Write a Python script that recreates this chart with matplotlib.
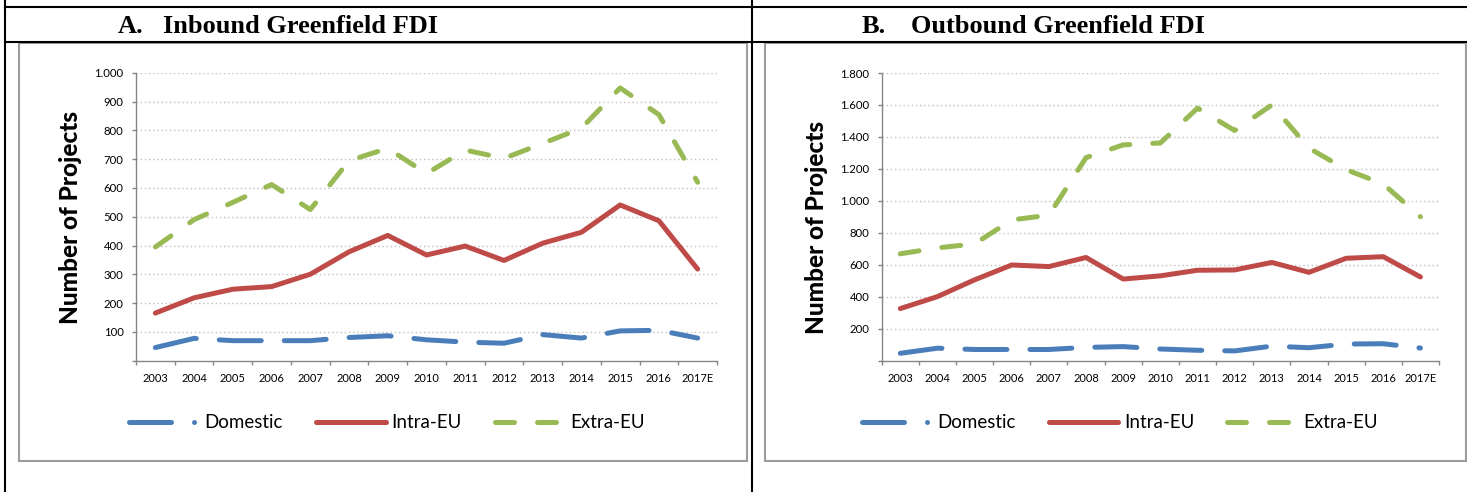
import matplotlib.pyplot as plt
from matplotlib.lines import Line2D
from matplotlib.patches import Rectangle

years = ['2003', '2004', '2005', '2006', '2007', '2008', '2009', '2010',
         '2011', '2012', '2013', '2014', '2015', '2016', '2017E']

# Panel A: inbound projects
inbound_domestic = [45, 77, 69, 69, 69, 80, 86, 72, 64, 60, 90, 78, 103, 105, 78]
inbound_intra_eu = [165, 218, 248, 257, 300, 378, 435, 367, 398, 348, 408, 446, 541, 486, 318]
inbound_extra_eu = [395, 490, 550, 612, 525, 695, 738, 650, 732, 703, 755, 808, 948, 855, 620]
inbound_ticks = [100, 200, 300, 400, 500, 600, 700, 800, 900, 1000]

# Panel B: outbound projects
outbound_domestic = [45, 77, 69, 69, 69, 82, 87, 72, 64, 60, 90, 80, 103, 105, 78]
outbound_intra_eu = [325, 400, 505, 598, 588, 645, 510, 530, 565, 567, 614, 552, 640, 650, 523]
outbound_extra_eu = [668, 705, 730, 880, 910, 1270, 1350, 1362, 1580, 1440, 1600, 1330, 1195, 1105, 900]
outbound_ticks = [200, 400, 600, 800, 1000, 1200, 1400, 1600, 1800]

series_names = ['Domestic', 'Intra-EU', 'Extra-EU']

BLUE = '#4A7EBB'
RED = '#BE4B48'
GREEN = '#98B954'
AXIS_GREY = '#868686'
LW = 3.6

W, H = 1467, 492
fig = plt.figure(figsize=(W / 100, H / 100), dpi=100)


def fx(px):
    return px / W


def fy(py):
    return 1 - py / H


def fig_line(x0, y0, x1, y1, **kw):
    fig.add_artist(Line2D([fx(x0), fx(x1)], [fy(y0), fy(y1)],
                          transform=fig.transFigure, **kw))


# table grid
for y in (7, 42):
    fig_line(5, y, W, y, color='black', lw=1.5)
for x in (5, 752):
    fig_line(x, 0, x, H, color='black', lw=1.5)

# panel headings
title_font = dict(family='Liberation Serif', weight='bold', size=19,
                  va='baseline', ha='left')
fig.text(fx(118), fy(33), 'A.', **title_font)
fig.text(fx(163), fy(33), 'Inbound Greenfield FDI', **title_font)
fig.text(fx(862), fy(33), 'B.', **title_font)
fig.text(fx(911), fy(33), 'Outbound Greenfield FDI', **title_font)

line_styles = [
    dict(color=BLUE, lw=LW, dashes=(8.4, 4.6), dash_capstyle='round', dash_joinstyle='round'),
    dict(color=RED, lw=LW, solid_capstyle='round', solid_joinstyle='round'),
    dict(color=GREEN, lw=LW, dashes=(3.8, 4.6), dash_capstyle='round', dash_joinstyle='round'),
]
legend_handles = [
    Line2D([], [], color=BLUE, lw=LW, dashes=(8.4, 4.6, 0.01, 4.6), dash_capstyle='round'),
    Line2D([], [], color=RED, lw=LW, solid_capstyle='round'),
    Line2D([], [], color=GREEN, lw=LW, dashes=(3.8, 4.6), dash_capstyle='round'),
]

panels = [
    dict(frame=(19, 43, 747, 461), plot=(136, 73, 717, 360.5), label_x=70, label_y=217,
         data=[inbound_domestic, inbound_intra_eu, inbound_extra_eu],
         ticks=inbound_ticks, ymax=1000),
    dict(frame=(765, 43, 1466, 461), plot=(881.7, 73, 1439, 360.5), label_x=816, label_y=227,
         data=[outbound_domestic, outbound_intra_eu, outbound_extra_eu],
         ticks=outbound_ticks, ymax=1800),
]

for p in panels:
    x0, y0, x1, y1 = p['frame']
    fig.add_artist(Rectangle((fx(x0), fy(y1)), (x1 - x0) / W, (y1 - y0) / H,
                             transform=fig.transFigure, fill=False,
                             edgecolor='#9C9C9C', lw=1.5))

    l, t, r, b = p['plot']
    ax = fig.add_axes([fx(l), fy(b), (r - l) / W, (b - t) / H])
    xs = range(len(years))
    for values, style in zip(p['data'], line_styles):
        ax.plot(xs, values, **style)

    ax.set_xlim(-0.5, len(years) - 0.5)
    ax.set_ylim(0, p['ymax'])
    ax.set_xticks(list(xs))
    ax.set_xticklabels(years, family='Lato', size=8)
    ax.set_xticks([i - 0.5 for i in range(len(years) + 1)], minor=True)
    ax.tick_params(axis='x', which='major', length=0, pad=9)
    ax.tick_params(axis='x', which='minor', length=3, width=1, color=AXIS_GREY)

    ax.set_yticks([0] + p['ticks'])
    ax.set_yticklabels([''] + [f'{v:,}'.replace(',', '.') for v in p['ticks']],
                       family='Lato', size=8.2)
    ax.tick_params(axis='y', length=3, width=1, color=AXIS_GREY, pad=6)

    for v in p['ticks']:
        ax.axhline(v, color='#BFBFBF', lw=1, ls=(0, (1, 2)), zorder=0)

    for side in ('top', 'right'):
        ax.spines[side].set_visible(False)
    for side in ('left', 'bottom'):
        ax.spines[side].set_color(AXIS_GREY)
        ax.spines[side].set_linewidth(1)

    fig.text(fx(p['label_x']), fy(p['label_y']), 'Number of Projects',
             rotation=90, ha='center', va='center',
             family='Lato', weight='black', size=17.5)

    fig.legend(legend_handles, series_names, loc='center',
               bbox_to_anchor=(fx((x0 + x1) / 2 + 4), fy(423)), ncol=3, frameon=False,
               handlelength=3.73, handletextpad=0.3, columnspacing=1.76,
               prop=dict(family='Lato', size=13.5))

fig.savefig('out.png', dpi=100)
